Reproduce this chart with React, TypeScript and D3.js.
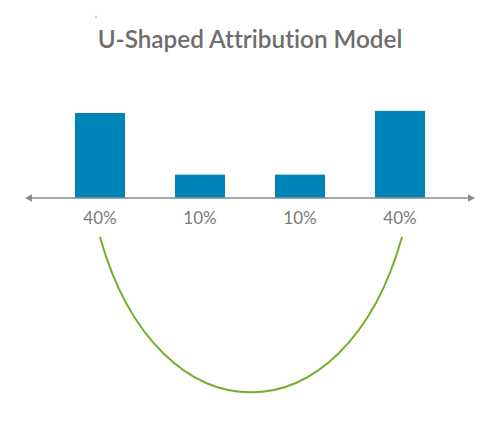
import React, { useEffect, useRef } from 'react';
import * as d3 from 'd3';

// touchpoints along the journey
const touchpoints = ['First Touch', 'Middle 1', 'Middle 2', 'Lead Creation'];
// bar heights as drawn (percent of credit)
const creditValues = [40, 11, 11, 41];
// labels printed under the axis
const creditLabels = ['40%', '10%', '10%', '40%'];

const UShapedChart = () => {
  const svgRef = useRef(null);

  useEffect(() => {
    const width = 500,
      height = 425;
    const axisY = 198;

    const svg = d3.select(svgRef.current);
    svg.selectAll('*').remove();

    // title
    svg.append('text')
      .attr('x', 250)
      .attr('y', 48)
      .attr('text-anchor', 'middle')
      .style('font-family', 'Lato, sans-serif')
      .style('font-weight', 600)
      .style('font-size', '24.3px')
      .style('font-variant-ligatures', 'none')
      .style('fill', '#6d6d6d')
      .text('U-Shaped Attribution Model');

    // little green speck above the title
    svg.append('line')
      .attr('x1', 96).attr('x2', 96)
      .attr('y1', 15.5).attr('y2', 18)
      .attr('stroke', '#8cc63f')
      .attr('stroke-width', 1);

    const x = d3.scaleBand()
      .domain(touchpoints)
      .range([50, 450])
      .paddingInner(0.5)
      .paddingOuter(0.25);

    const y = d3.scaleLinear()
      .domain([0, 40])
      .range([axisY, 113]);

    // bars
    svg.append('g')
      .selectAll('rect')
      .data(touchpoints)
      .join('rect')
      .attr('x', d => x(d))
      .attr('y', (d, i) => y(creditValues[i]))
      .attr('width', x.bandwidth())
      .attr('height', (d, i) => y(0) - y(creditValues[i]))
      .attr('fill', '#0083b7');

    // axis line with arrows on both ends
    const axisLeft = x.range()[0] - 25;
    const axisRight = x.range()[1] + 25;
    svg.append('line')
      .attr('x1', axisLeft + 5)
      .attr('x2', axisRight - 5)
      .attr('y1', axisY)
      .attr('y2', axisY)
      .attr('stroke', '#8a8a8a')
      .attr('stroke-width', 1.5);

    svg.append('path')
      .attr('d', `M${axisLeft},${axisY} l7,-3.8 v7.6 Z`)
      .attr('fill', '#8a8a8a');
    svg.append('path')
      .attr('d', `M${axisRight},${axisY} l-7,-3.8 v7.6 Z`)
      .attr('fill', '#8a8a8a');

    // percent labels
    svg.append('g')
      .selectAll('text')
      .data(touchpoints)
      .join('text')
      .attr('x', d => x(d) + x.bandwidth() / 2)
      .attr('y', axisY + 26)
      .attr('text-anchor', 'middle')
      .style('font-family', 'Lato, sans-serif')
      .style('font-weight', 400)
      .style('font-size', '17px')
      .style('fill', '#7a7a7a')
      .text((d, i) => creditLabels[i]);

    // the U under the labels, from first to last touch
    const x0 = x(touchpoints[0]) + x.bandwidth() / 2;
    const x1 = x(touchpoints[touchpoints.length - 1]) + x.bandwidth() / 2 + 2;
    const curveTop = axisY + 39;
    const curveCtrl = 444;
    const bend = 58;
    const u = d3.path();
    u.moveTo(x0, curveTop);
    u.bezierCurveTo(x0 + bend, curveCtrl, x1 - bend, curveCtrl, x1, curveTop);
    svg.append('path')
      .attr('d', u.toString())
      .attr('fill', 'none')
      .attr('stroke', '#72b02c')
      .attr('stroke-width', 2);

    svg.attr('width', width).attr('height', height);
  }, []);

  return (
    <svg
      ref={svgRef}
      style={{ position: 'absolute', left: 0, top: 0, background: '#ffffff' }}
    />
  );
};

export default function App() {
  return <UShapedChart />;
}
